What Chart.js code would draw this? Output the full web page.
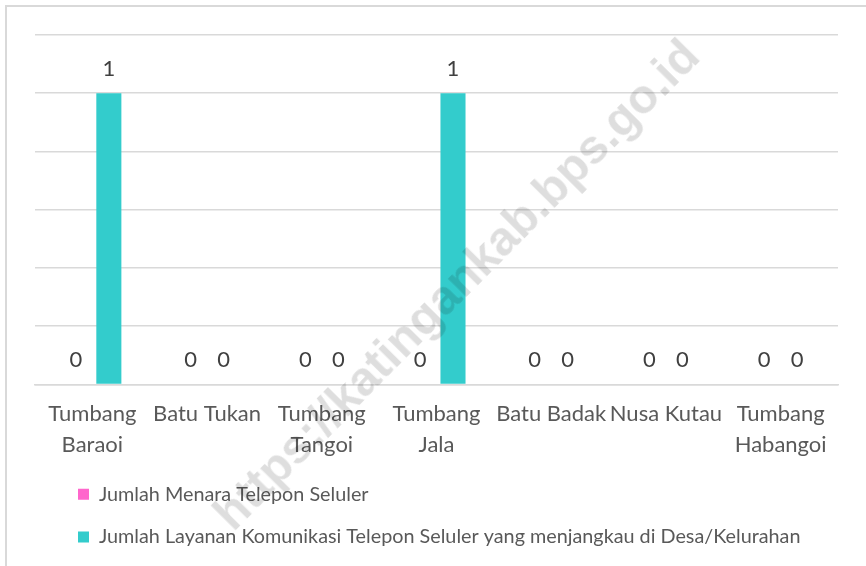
<!DOCTYPE html>
<html>
<head>
<meta charset="utf-8">
<script src="https://cdn.jsdelivr.net/npm/chart.js@4.4.1/dist/chart.umd.min.js"></script>
<style>
  html, body { margin: 0; padding: 0; background: #ffffff; overflow: hidden; }
  #wrap { position: relative; width: 866px; height: 566px; }
  #frame { position: absolute; left: 5px; top: 5px; width: 1000px; height: 700px; border: 2px solid #d9d9d9; box-sizing: border-box; }
  canvas { position: absolute; left: 0; top: 0; }
  #wm { position: absolute; left: 456px; top: 284px; transform: translate(-50%, -50%) rotate(-45.3deg);
        font-family: "Liberation Sans", Arial, sans-serif; font-weight: bold; font-size: 48px;
        color: rgba(0,0,0,0.13); white-space: nowrap; pointer-events: none; }
</style>
</head>
<body>
<div id="wrap">
  <div id="frame"></div>
  <canvas id="c" width="866" height="566"></canvas>
  <div id="wm">https://katingankab.bps.go.id</div>
</div>
<script>
const categories = [["Tumbang", "Baraoi"], "Batu Tukan", ["Tumbang", "Tangoi"], ["Tumbang", "Jala"], "Batu Badak", "Nusa Kutau", ["Tumbang", "Habangoi"]];
const seriesNames = ["Jumlah Menara Telepon Seluler", "Jumlah Layanan Komunikasi Telepon Seluler yang menjangkau di Desa/Kelurahan"];
const menaraValues = [0, 0, 0, 0, 0, 0, 0];
const layananValues = [1, 0, 0, 1, 0, 0, 0];
const yTicks = [0, 0.2, 0.4, 0.6, 0.8, 1, 1.2];

const FONT = "Lato, 'Open Sans', sans-serif";

const valueLabels = {
  id: 'valueLabels',
  afterDatasetsDraw(chart) {
    const ctx = chart.ctx;
    ctx.save();
    ctx.font = "22px " + FONT;
    ctx.fillStyle = "#404040";
    ctx.textAlign = "center";
    ctx.textBaseline = "middle";
    chart.data.datasets.forEach((ds, i) => {
      const meta = chart.getDatasetMeta(i);
      meta.data.forEach((bar, j) => {
        ctx.fillText(String(ds.data[j]), bar.x, bar.y - 24);
      });
    });
    ctx.restore();
  }
};

const legendShift = {
  id: 'legendShift',
  afterLayout(chart) {
    const lg = chart.legend;
    if (!lg) return;
    const w = lg.right - lg.left;
    const h = lg.bottom - lg.top;
    lg.left = chart.chartArea.left + 20;
    lg.right = lg.left + w;
    lg.top = chart.scales.x.bottom + 2;
    lg.bottom = lg.top + h;
  }
};

new Chart(document.getElementById('c'), {
  type: 'bar',
  data: {
    labels: categories,
    datasets: [
      { label: seriesNames[0], data: menaraValues, backgroundColor: '#FF66CC', borderWidth: 0 },
      { label: seriesNames[1], data: layananValues, backgroundColor: '#33CCCC', borderWidth: 0 }
    ]
  },
  options: {
    responsive: false,
    animation: false,
    events: [],
    layout: { padding: { top: 35, left: 35, right: 28, bottom: 11 } },
    datasets: { bar: { categoryPercentage: 0.575, barPercentage: 0.76 } },
    scales: {
      x: {
        grid: { display: false, drawTicks: false },
        border: { display: true, color: '#d9d9d9', width: 1.5 },
        ticks: { color: '#595959', font: { family: FONT, size: 22, lineHeight: 1.364 }, padding: 15, maxRotation: 0, autoSkip: false },
        afterFit(axis) { axis.height = 75; }
      },
      y: {
        display: true,
        min: 0, max: 1.2,
        afterBuildTicks(axis) { axis.ticks = yTicks.map(v => ({ value: v })); },
        grid: { color: '#d9d9d9', lineWidth: 1.5, drawTicks: false },
        border: { display: false },
        ticks: { display: false },
        afterFit(axis) { axis.width = 0; }
      }
    },
    plugins: {
      legend: {
        position: 'bottom',
        align: 'start',
        labels: { color: '#595959', font: { family: FONT, size: 19.8 }, boxWidth: 11, boxHeight: 11, padding: 23 }
      },
      tooltip: { enabled: false }
    }
  },
  plugins: [valueLabels, legendShift]
});
</script>
</body>
</html>
